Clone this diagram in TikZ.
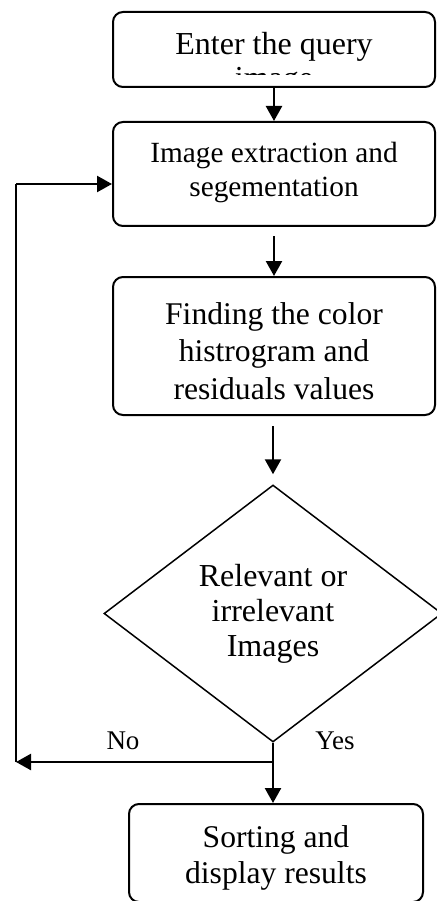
\documentclass[tikz,border=0pt]{standalone}
\usepackage{fontspec}
\setmainfont{Liberation Serif}
\usetikzlibrary{arrows.meta,shapes.geometric}
\tikzset{
  stepbox/.style={draw, line width=2pt, rounded corners=10pt, inner sep=0pt},
  decision/.style={draw, diamond, line width=1.5pt, inner sep=0pt},
  txt/.style={align=center, anchor=base, inner sep=0pt},
  arr/.style={line width=2.4pt, -{Triangle[width=16pt,length=15pt]}},
  ln/.style={line width=2.4pt}
}
\begin{document}
\begin{tikzpicture}[x=1pt,y=-1pt]
\useasboundingbox (0,0) rectangle (436,901);
% boxes
\node[stepbox, minimum width=322pt, minimum height=75pt] (b1) at (274,49.5) {};
\node[stepbox, minimum width=322pt, minimum height=104pt] (b2) at (274,174) {};
\node[stepbox, minimum width=322pt, minimum height=138pt] (b3) at (274,346) {};
\node[decision, minimum width=338pt, minimum height=257pt] (dia) at (273,613.5) {};
\node[stepbox, minimum width=294pt, minimum height=98pt] (b4) at (276,853) {};
% texts (base anchor = baseline of last line)
\node[txt, font=\fontsize{32}{37}\selectfont] (t1) at (274,55) {Enter the query};
\begin{scope}
\clip (113,12) rectangle (435,75);
\node[txt, font=\fontsize{32}{37}\selectfont] (t1b) at (274,88.5) {image};
\end{scope}
\node[txt, font=\fontsize{29.3}{34}\selectfont] (t2) at (274,197) {Image extraction and\\segementation};
\node[txt, font=\fontsize{31.6}{37.5}\selectfont] (t3) at (274,399) {Finding the color\\histrogram and\\residuals values};
\node[txt, font=\fontsize{32}{35}\selectfont] (td) at (273,656) {Relevant or\\irrelevant\\Images};
\node[txt, font=\fontsize{31.6}{36}\selectfont] (t4) at (276,883) {Sorting and\\display results};
\node[txt, font=\fontsize{27}{30}\selectfont] (no) at (123,749) {No};
\node[txt, font=\fontsize{27}{30}\selectfont] (yes) at (335,749) {Yes};
% connectors
\coordinate (split) at (273,762);
\coordinate (corner) at (16,762);
\coordinate (fb) at (16,184);
\draw[arr] (b1.south) -- (b2.north);
\draw[arr, shorten <=9pt] (b2.south) -- (b3.north);
\draw[arr, shorten <=10pt, shorten >=10pt] (b3.south -| dia.north) -- (dia.north);
\draw[arr] (dia.south) -- (dia.south |- b4.north);
\draw[arr] (split) -- (corner);
\draw[ln] (corner) -- (fb);
\draw[arr] (fb) -- (fb -| b2.west);
\end{tikzpicture}
\end{document}
